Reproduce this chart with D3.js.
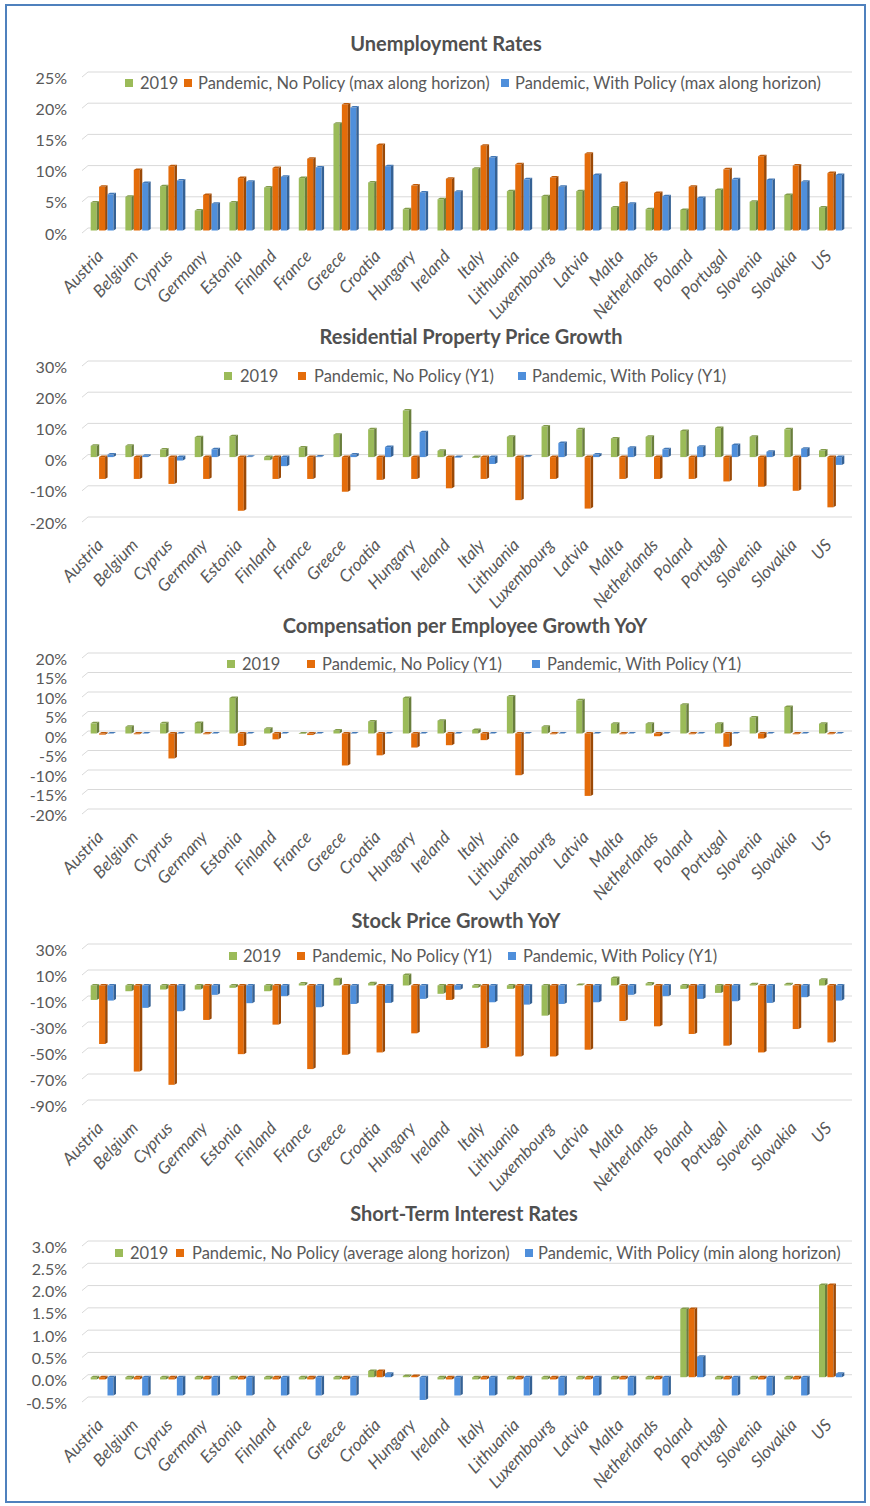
<!DOCTYPE html>
<html>
<head>
<meta charset="utf-8">
<script src="https://cdn.jsdelivr.net/npm/d3@7"></script>
<style>
  body { margin: 0; background: #fff; }
  svg { display: block; }
  text { font-family: Lato, "Open Sans", sans-serif; fill: #595959; }
</style>
</head>
<body>
<svg id="chart" width="870" height="1506"></svg>
<script>
// ---- data ----
const countries = ["Austria","Belgium","Cyprus","Germany","Estonia","Finland","France","Greece","Croatia","Hungary","Ireland","Italy","Lithuania","Luxembourg","Latvia","Malta","Netherlands","Poland","Portugal","Slovenia","Slovakia","US"];
const seriesColors = ["#9bbb59", "#e46c0a", "#4f8fdb"];

// Unemployment rates (%)
const unempTitle = "Unemployment Rates";
const unempLegend = ["2019", "Pandemic, No Policy (max along horizon)", "Pandemic, With Policy (max along horizon)"];
const unempTicks = [0, 5, 10, 15, 20, 25];
const unemp2019       = [4.5, 5.4, 7.1, 3.2, 4.5, 6.9, 8.4, 17.1, 7.7, 3.4, 5.0, 9.9, 6.3, 5.5, 6.3, 3.7, 3.4, 3.3, 6.5, 4.6, 5.7, 3.7];
const unempNoPolicy   = [7.0, 9.7, 10.3, 5.7, 8.4, 10.0, 11.5, 20.2, 13.7, 7.2, 8.3, 13.6, 10.6, 8.5, 12.3, 7.6, 6.0, 7.0, 9.8, 11.9, 10.4, 9.2];
const unempWithPolicy = [5.8, 7.6, 8.0, 4.3, 7.8, 8.6, 10.1, 19.7, 10.3, 6.1, 6.2, 11.7, 8.2, 7.0, 8.9, 4.3, 5.5, 5.2, 8.2, 8.1, 7.8, 8.9];

// Residential property price growth (%)
const housingTitle = "Residential Property Price Growth";
const housingLegend = ["2019", "Pandemic, No Policy (Y1)", "Pandemic, With Policy (Y1)"];
const housingTicks = [-20, -10, 0, 10, 20, 30];
const housing2019       = [3.6, 3.6, 2.4, 6.4, 6.7, -1.0, 3.1, 7.2, 8.9, 14.9, 2.0, -0.3, 6.5, 9.8, 8.9, 6.0, 6.5, 8.4, 9.3, 6.5, 8.9, 2.1];
const housingNoPolicy   = [-7.0, -7.0, -8.6, -7.0, -17.2, -7.0, -7.0, -11.1, -7.3, -7.0, -10.0, -7.0, -13.8, -7.0, -16.5, -7.0, -7.0, -7.0, -7.8, -9.5, -10.8, -16.1];
const housingWithPolicy = [0.8, 0.4, -1.1, 2.5, 0.1, -2.9, 0.2, 0.8, 3.2, 8.0, -0.2, -2.2, 0.2, 4.5, 0.8, 3.0, 2.5, 3.3, 3.9, 1.7, 2.7, -2.5];

// Compensation per employee growth, year on year (%)
const wagesTitle = "Compensation per Employee Growth YoY";
const wagesLegend = ["2019", "Pandemic, No Policy (Y1)", "Pandemic, With Policy (Y1)"];
const wagesTicks = [-20, -15, -10, -5, 0, 5, 10, 15, 20];
const wages2019       = [2.6, 1.7, 2.6, 2.7, 9.1, 1.2, -0.1, 0.8, 3.1, 9.1, 3.3, 0.9, 9.5, 1.7, 8.5, 2.5, 2.5, 7.4, 2.5, 4.1, 6.8, 2.5];
const wagesNoPolicy   = [-0.3, -0.2, -6.4, -0.2, -3.2, -1.5, -0.4, -8.2, -5.6, -3.6, -3.0, -1.7, -10.7, -0.2, -16.0, -0.2, -0.7, -0.2, -3.4, -1.3, -0.2, -0.2];
const wagesWithPolicy = [0, 0, 0, 0, 0, 0, 0, 0, 0, 0, 0, 0, 0, 0, 0, 0, 0, 0, 0, 0, 0, 0];

// Stock price growth, year on year (%)
const stocksTitle = "Stock Price Growth YoY";
const stocksLegend = ["2019", "Pandemic, No Policy (Y1)", "Pandemic, With Policy (Y1)"];
const stocksTicks = [-90, -70, -50, -30, -10, 10, 30];
const stocks2019       = [-11.1, -4.4, -3.1, -3.1, -1.8, -4.4, 1.5, 4.9, 1.8, 8.0, -6.4, -1.8, -2.6, -23.2, 0.3, 5.7, 1.5, -2.6, -5.7, 1.0, 1.0, 4.4];
const stocksNoPolicy   = [-45.0, -66.2, -76.4, -26.5, -52.8, -30.1, -64.3, -53.3, -51.5, -36.8, -11.1, -48.1, -54.6, -54.6, -49.4, -27.3, -31.4, -37.3, -46.3, -51.5, -33.5, -43.8];
const stocksWithPolicy = [-11.6, -17.2, -19.8, -7.2, -13.6, -8.2, -16.7, -14.2, -13.4, -10.3, -3.3, -12.9, -14.7, -14.2, -12.9, -7.2, -8.2, -10.3, -12.1, -13.4, -9.0, -11.6];

// Short-term interest rates (%)
const ratesTitle = "Short-Term Interest Rates";
const ratesLegend = ["2019", "Pandemic, No Policy (average along horizon)", "Pandemic, With Policy (min along horizon)"];
const ratesTicks = [-0.5, 0, 0.5, 1.0, 1.5, 2.0, 2.5, 3.0];
const rates2019       = [-0.05, -0.05, -0.05, -0.05, -0.05, -0.05, -0.05, -0.05, 0.14, 0.03, -0.05, -0.05, -0.05, -0.05, -0.05, -0.05, -0.05, 1.53, -0.05, -0.05, -0.05, 2.07];
const ratesNoPolicy   = [-0.05, -0.05, -0.05, -0.05, -0.05, -0.05, -0.05, -0.05, 0.14, 0.03, -0.05, -0.05, -0.05, -0.05, -0.05, -0.05, -0.05, 1.53, -0.05, -0.05, -0.05, 2.07];
const ratesWithPolicy = [-0.41, -0.41, -0.41, -0.41, -0.41, -0.41, -0.41, -0.41, 0.08, -0.51, -0.41, -0.41, -0.41, -0.41, -0.41, -0.41, -0.41, 0.46, -0.41, -0.41, -0.41, 0.08];

// ---- layout of the five panels ----
const panels = [
  { title: unempTitle, legend: unempLegend, ticks: unempTicks, fmt: d => d + "%",
    series: [unemp2019, unempNoPolicy, unempWithPolicy],
    top: 72, bottom: 228, titleX: 446, titleY: 51, legendY: 89,
    legendPos: [[125, 140], [184, 198], [501, 515]] },
  { title: housingTitle, legend: housingLegend, ticks: housingTicks, fmt: d => d + "%",
    series: [housing2019, housingNoPolicy, housingWithPolicy],
    top: 361, bottom: 517, titleX: 471, titleY: 344, legendY: 382,
    legendPos: [[224, 240], [298, 314], [518, 532]] },
  { title: wagesTitle, legend: wagesLegend, ticks: wagesTicks, fmt: d => d + "%",
    series: [wages2019, wagesNoPolicy, wagesWithPolicy],
    top: 653, bottom: 809, titleX: 465, titleY: 633, legendY: 670,
    legendPos: [[227, 242], [307, 322], [532, 547]] },
  { title: stocksTitle, legend: stocksLegend, ticks: stocksTicks, fmt: d => d + "%",
    series: [stocks2019, stocksNoPolicy, stocksWithPolicy],
    top: 944, bottom: 1100, titleX: 456, titleY: 928, legendY: 962,
    legendPos: [[229, 243], [297, 312], [508, 523]] },
  { title: ratesTitle, legend: ratesLegend, ticks: ratesTicks, fmt: d => d.toFixed(1) + "%",
    series: [rates2019, ratesNoPolicy, ratesWithPolicy],
    top: 1241, bottom: 1397, titleX: 464, titleY: 1221, legendY: 1259,
    legendPos: [[115, 130], [176, 192], [525, 538]] }
];

// ---- geometry of the pseudo-3D columns ----
const wallX0 = 88, wallX1 = 852;      // back wall span for gridlines
const sideDX = 6, sideDY = 5;         // left side-wall depth (slant of gridline starts)
const frontDrop = 2.5;                // bar fronts sit slightly in front of the back wall
const barW = 6, barStep = 8.4;        // front width and spacing of the three columns
const capDX = 2.5, capDY = 1.5;       // depth of each column (top / side faces)

const svg = d3.select("#chart");

// outer frame
svg.append("rect")
  .attr("x", 6).attr("y", 5).attr("width", 859).attr("height", 1497)
  .attr("fill", "none").attr("stroke", "#4f81bd").attr("stroke-width", 2);

const x = d3.scaleBand().domain(countries).range([86, 849]);
const groupW = 2 * barStep + barW + capDX;

panels.forEach(p => {
  const g = svg.append("g");
  const y = d3.scaleLinear()
    .domain([p.ticks[0], p.ticks[p.ticks.length - 1]])
    .range([p.bottom, p.top]);

  // title
  g.append("text")
    .attr("x", p.titleX).attr("y", p.titleY)
    .attr("text-anchor", "middle")
    .style("font-size", "20px").style("font-weight", "bold")
    .style("fill", "#505050")
    .text(p.title);

  // gridlines on the back wall, with a short slanted start on the side wall
  g.selectAll("path.grid").data(p.ticks).join("path")
    .attr("class", "grid")
    .attr("d", t => `M${wallX0 - sideDX},${y(t) + sideDY}L${wallX0},${y(t)}L${wallX1},${y(t)}`)
    .attr("fill", "none").attr("stroke", "#d9d9d9").attr("stroke-width", 1);

  // y tick labels
  g.selectAll("text.tick").data(p.ticks).join("text")
    .attr("class", "tick")
    .attr("x", 67).attr("y", t => y(t) + sideDY + 1)
    .attr("dy", "0.35em")
    .attr("text-anchor", "end")
    .style("font-size", "16px")
    .text(p.fmt);

  // legend
  p.legend.forEach((name, i) => {
    g.append("rect")
      .attr("x", p.legendPos[i][0]).attr("y", p.legendY - 10)
      .attr("width", 8).attr("height", 8)
      .attr("fill", seriesColors[i]);
    g.append("text")
      .attr("x", p.legendPos[i][1]).attr("y", p.legendY)
      .style("font-size", "16.5px")
      .text(name);
  });

  // columns
  const bars = [];
  countries.forEach((c, ci) => {
    const gx = x(c) + (x.bandwidth() - groupW) / 2;
    p.series.forEach((vals, si) => {
      bars.push({ left: gx + si * barStep, v: vals[ci], color: seriesColors[si] });
    });
  });
  const yF = v => y(v) + frontDrop;

  const bar = g.selectAll("g.bar").data(bars).join("g").attr("class", "bar");
  bar.each(function (d) {
    const top = Math.min(yF(d.v), yF(0));
    const bot = Math.max(yF(d.v), yF(0));
    const l = d.left, r = d.left + barW;
    const sel = d3.select(this);
    const base = d3.color(d.color);
    sel.append("rect")
      .attr("x", l).attr("y", top).attr("width", barW).attr("height", bot - top)
      .attr("fill", base);
    sel.append("path")
      .attr("d", `M${r},${top}L${r + capDX},${top - capDY}L${r + capDX},${bot - capDY}L${r},${bot}Z`)
      .attr("fill", base.darker(1.1));
    sel.append("path")
      .attr("d", `M${l},${top}L${l + capDX},${top - capDY}L${r + capDX},${top - capDY}L${r},${top}Z`)
      .attr("fill", base.darker(0.5));
  });

  // category labels, slanted
  g.selectAll("text.cat").data(countries).join("text")
    .attr("class", "cat")
    .attr("transform", c => `translate(${x(c) + x.bandwidth() / 2 + 1},${p.bottom + 29}) rotate(-47)`)
    .attr("text-anchor", "end")
    .style("font-size", "17px").style("font-style", "italic")
    .text(c => c);
});
</script>
</body>
</html>
